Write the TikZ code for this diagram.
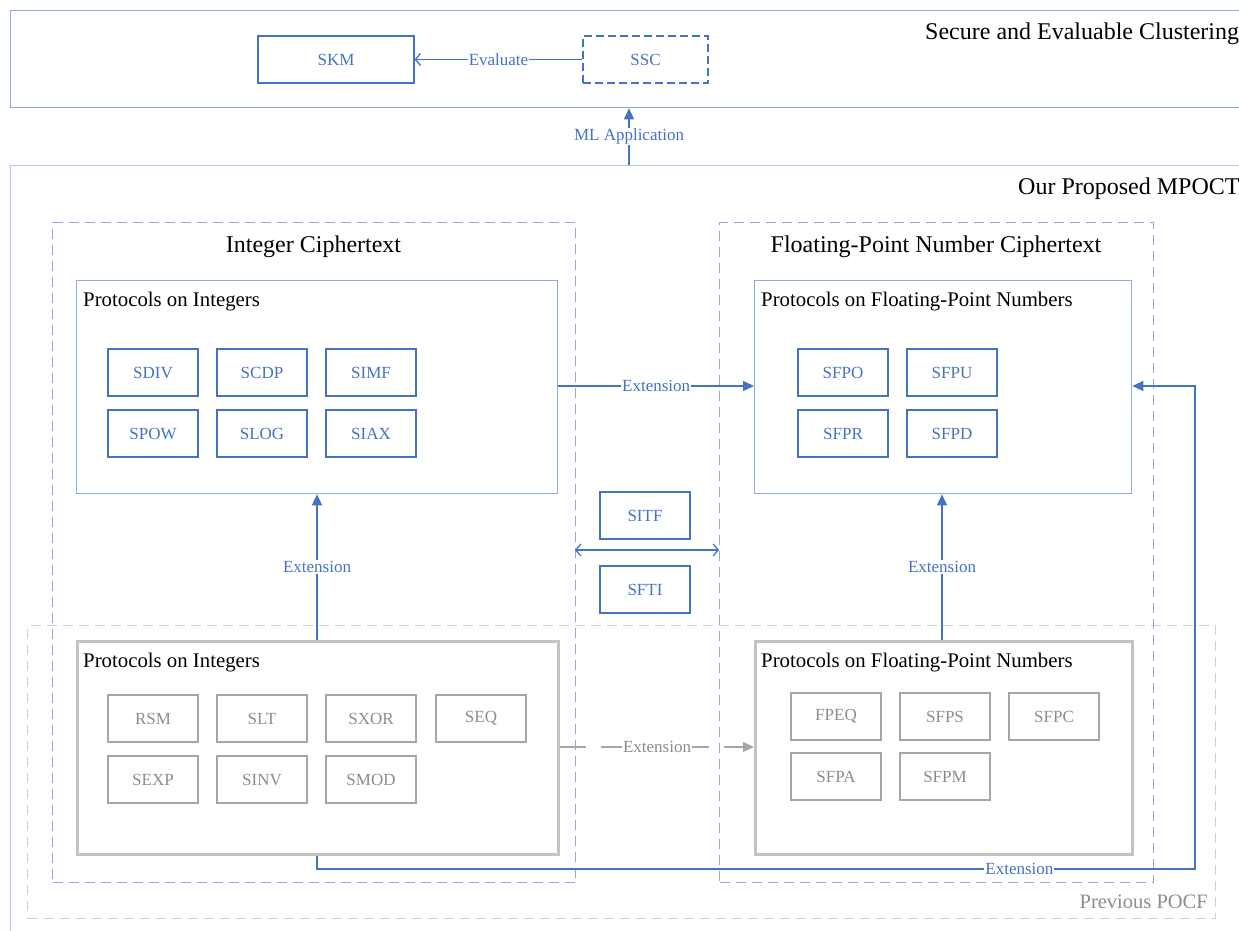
\documentclass[tikz,border=0pt]{standalone}
\usepackage{fontspec}
\setmainfont{Liberation Serif}
\usetikzlibrary{arrows.meta}
\definecolor{cblue}{HTML}{4472C4}
\definecolor{clight}{HTML}{8FAADC}
\definecolor{cpale}{HTML}{B4C7E7}
\definecolor{cgbox}{HTML}{A6A6A6}
\definecolor{cgframe}{HTML}{C3C3C3}
\definecolor{cgtext}{HTML}{8C8C8C}
\definecolor{cgdash}{HTML}{D0D0D0}
\tikzset{
  fs/.style={font=\fontsize{#1}{#1}\selectfont},
  pbox/.style={draw=cblue, line width=1.3pt, text=cblue, fs=17, minimum width=90pt, minimum height=47pt, inner sep=0pt},
  gbox/.style={draw=cgbox, line width=1.3pt, text=cgtext, fs=17, minimum width=90pt, minimum height=47pt, inner sep=0pt},
  frameb/.style={draw=clight, line width=1.3pt, inner sep=0pt},
  frameg/.style={draw=cgframe, line width=3pt, inner sep=0pt},
  dframe/.style={draw=clight, line width=1.3pt, dash pattern=on 10pt off 6pt, inner sep=0pt},
  lbl/.style={fill=white, text=cblue, fs=17, inner sep=1pt},
  glbl/.style={fill=white, text=cgtext, fs=17, inner sep=1pt},
  title/.style={fs=#1, text=black, inner sep=0pt},
  conn/.style={draw=cblue, line width=1.3pt, -{Triangle[length=11pt,width=10pt]}},
  oconn/.style={draw=cblue, line width=1.3pt, -{Straight Barb[length=5pt,width=12pt,line width=1.3pt]}},
}
\begin{document}
\begin{tikzpicture}[x=1pt,y=-1pt]
\useasboundingbox (0,0) rectangle (1239,931);
\clip (0,0) rectangle (1239,931);
% top region
\node[frameb, minimum width=1240pt, minimum height=97pt, anchor=north west] (topbox) at (10,10) {};
\node[title=24, anchor=west] (toptitle) at (925,33.5) {Secure and Evaluable Clustering};
\node[pbox, minimum width=156pt] (skm) at (336,59.5) {SKM};
\node[pbox, minimum width=125pt, dash pattern=on 8pt off 4pt] (ssc) at (645.5,59.5) {SSC};
\draw[oconn] (ssc) -- node[lbl]{Evaluate} (skm);
% MPOCT region
\node[draw=cpale, line width=1.3pt, minimum width=1240pt, minimum height=780pt, anchor=north west, inner sep=0pt] (mpoct) at (10,165) {};
\node[title=24, anchor=west] (mptitle) at (1018,188.5) {Our Proposed MPOCT};
\coordinate (mptop) at (629,165);
\draw[conn] (mptop) -- node[lbl]{ML Application} (topbox.south -| mptop);
% previous POCF
\node[draw=cgdash, line width=1.3pt, dash pattern=on 10pt off 6pt, minimum width=1188pt, minimum height=293pt, anchor=north west] (pocf) at (27,625) {};
\node[title=20.5, text=cgtext, anchor=east] (pocflbl) at (1208,901.5) {Previous POCF};
% ciphertext frames
\node[dframe, minimum width=523pt, minimum height=660pt, anchor=north west] (intc) at (52,222) {};
\node[title=24] (intt) at (313.5,246.5) {Integer Ciphertext};
\node[dframe, minimum width=434pt, minimum height=660pt, anchor=north west] (fpc) at (719,222) {};
\node[title=24] (fpt) at (936,246.5) {Floating-Point Number Ciphertext};
% upper integer protocols
\node[frameb, minimum width=481pt, minimum height=213pt, anchor=north west] (ui) at (76,280) {};
\node[title=20.8, anchor=west] (uit) at (83,301.5) {Protocols on Integers};
\node[pbox] (sdiv) at (153,372.5) {SDIV};
\node[pbox] (scdp) at (262,372.5) {SCDP};
\node[pbox] (simf) at (371,372.5) {SIMF};
\node[pbox] (spow) at (153,433.5) {SPOW};
\node[pbox] (slog) at (262,433.5) {SLOG};
\node[pbox] (siax) at (371,433.5) {SIAX};
% upper FP protocols
\node[frameb, minimum width=377pt, minimum height=213pt, anchor=north west] (uf) at (754,280) {};
\node[title=20.8, anchor=west] (uft) at (761,301.5) {Protocols on Floating-Point Numbers};
\node[pbox] (sfpo) at (843,372.5) {SFPO};
\node[pbox] (sfpu) at (952,372.5) {SFPU};
\node[pbox] (sfpr) at (843,433.5) {SFPR};
\node[pbox] (sfpd) at (952,433.5) {SFPD};
\draw[conn] (ui.east |- 0,386) -- node[lbl]{Extension} (uf.west |- 0,386);
% conversion
\node[pbox] (sitf) at (645,515.5) {SITF};
\node[pbox] (sfti) at (645,589.5) {SFTI};
\coordinate (cl) at (575,550);
\coordinate (cr) at (719,550);
\draw[oconn, {Straight Barb[length=5pt,width=12pt,line width=1.3pt]}-{Straight Barb[length=5pt,width=12pt,line width=1.3pt]}] (cl) -- (cr);
% lower integer protocols
\node[frameg, minimum width=481pt, minimum height=213pt, anchor=north west] (li) at (76,640) {};
\node[title=20.8, anchor=west] (lit) at (83,662.5) {Protocols on Integers};
\node[gbox] (rsm) at (153,718.5) {RSM};
\node[gbox] (slt) at (262,718.5) {SLT};
\node[gbox] (sxor) at (371,718.5) {SXOR};
\node[gbox] (seq) at (481,718.5) {SEQ};
\node[gbox] (sexp) at (153,779.5) {SEXP};
\node[gbox] (sinv) at (262,779.5) {SINV};
\node[gbox] (smod) at (371,779.5) {SMOD};
% lower FP protocols
\node[frameg, minimum width=377pt, minimum height=213pt, anchor=north west] (lf) at (754,640) {};
\node[title=20.8, anchor=west] (lft) at (761,662.5) {Protocols on Floating-Point Numbers};
\node[gbox] (fpeq) at (836,716.5) {FPEQ};
\node[gbox] (sfps) at (945,716.5) {SFPS};
\node[gbox] (sfpc) at (1054,716.5) {SFPC};
\node[gbox] (sfpa) at (836,776.5) {SFPA};
\node[gbox] (sfpm) at (945,776.5) {SFPM};
\draw[draw=cgbox, line width=1.3pt, dash pattern=on 26pt off 15pt, -{Triangle[length=11pt,width=10pt]}] (li.east |- 0,747) -- node[glbl]{Extension} (lf.west |- 0,747);
% vertical extensions
\draw[conn] (li.north -| 317,0) -- node[lbl]{Extension} (ui.south -| 317,0);
\draw[conn] (lf.north -| 942,0) -- node[lbl]{Extension} (uf.south -| 942,0);
% bottom loop
\coordinate (lb) at (317,869);
\coordinate (rc) at (1195,869);
\draw[conn] (li.south -| lb) -- (lb) -- node[lbl, pos=0.8]{Extension} (rc) |- (uf.east |- 0,386);
\end{tikzpicture}
\end{document}
